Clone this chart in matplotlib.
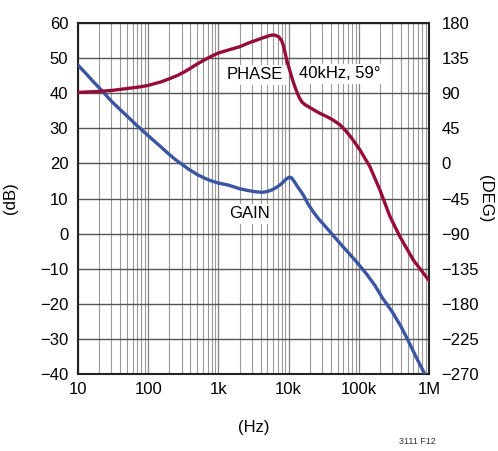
import numpy as np
import matplotlib.pyplot as plt
from matplotlib.ticker import FixedLocator, NullFormatter

# Loop gain / phase
gain_freq = [10, 13, 16.5, 22.7, 30, 40, 55, 71.6, 95, 120, 150, 191, 240, 300,
             380, 513, 650, 800, 1000, 1370, 2000, 2600, 3290, 4200, 5000, 5700,
             6500, 7500, 8500, 9300, 10300, 11000, 12000, 13000, 14500, 16200,
             19000, 22500, 26500, 31000, 41000, 60000, 88000, 129000, 170000,
             220000, 300000, 400000, 500000, 650000, 870000]
gain_db = [48, 45.6, 43.3, 40.4, 37.7, 35.3, 32.7, 30.5, 28.3, 26.5, 24.8, 22.9,
           21.2, 19.8, 18.3, 16.7, 15.7, 15, 14.4, 13.85, 12.8, 12.3, 11.95,
           11.75, 12, 12.4, 13, 13.8, 14.8, 15.6, 16.1, 15.9, 14.9, 13.8, 12.4,
           11, 8.4, 6.2, 4.3, 2.8, 0, -3.8, -7.5, -11.5, -14.8, -18.5, -22.3,
           -26.5, -30.3, -35, -40]

phase_freq = [10, 20, 30, 50, 75, 100, 155, 200, 265, 330, 400, 500, 630, 800,
              1000, 1400, 2000, 2800, 3500, 4000, 5000, 5800, 6500, 7300, 8000,
              8500, 8900, 9500, 10500, 11500, 12300, 13200, 14200, 15400, 17000,
              20200, 24000, 28000, 35000, 43000, 54000, 65000, 80000, 104000,
              144000, 200000, 278000, 386000, 600000, 1000000]
phase_deg = [91, 92.3, 93.5, 96, 98, 100, 104.7, 108.5, 113, 117.5, 122, 127.5,
             132.6, 137.5, 141.5, 145.5, 149.5, 155, 158, 160, 163, 164.6, 164.3,
             162, 157, 150, 142, 131, 118, 106, 98.3, 91, 84.5, 79, 75.5, 71.5,
             67.5, 64.2, 60, 55.6, 49.5, 42, 32, 17.2, -4.2, -34, -68, -94, -124,
             -150]

x_ticks = [10, 100, 1e3, 1e4, 1e5, 1e6]
x_labels = ['10', '100', '1k', '10k', '100k', '1M']
db_ticks = list(range(-40, 61, 10))
deg_ticks = list(range(-270, 181, 45))

blue = '#3a55a4'
red = '#970b3b'

plt.rcParams['font.family'] = ['Liberation Sans', 'DejaVu Sans']
fs = 12

fig = plt.figure(figsize=(4.98, 4.51), dpi=100)
ax = fig.add_axes([0.1566, 0.1707, 0.7048, 0.7783])

ax.set_xscale('log')
ax.set_xlim(10, 1e6)
ax.set_ylim(-40, 60)

# grid
ax.xaxis.set_major_locator(FixedLocator(x_ticks))
ax.xaxis.set_minor_locator(FixedLocator(
    [m * 10**d for d in range(1, 6) for m in range(2, 10)]))
ax.xaxis.set_minor_formatter(NullFormatter())
ax.set_xticklabels(x_labels)
ax.set_yticks(db_ticks)
ax.set_yticklabels([f'{v}'.replace('-', '\u2212') for v in db_ticks])
ax.grid(which='major', axis='x', color='#808080', linewidth=0.9)
ax.grid(which='minor', axis='x', color='#999999', linewidth=0.8)
ax.grid(which='major', axis='y', color='#555555', linewidth=1.0)
ax.tick_params(which='both', length=0, labelsize=fs)
ax.tick_params(axis='y', pad=7)
ax.tick_params(axis='x', pad=6)
for s in ax.spines.values():
    s.set_linewidth(1.5)
    s.set_color('#222222')

ax.plot(gain_freq, gain_db, color=blue, linewidth=2.4, zorder=4,
        solid_joinstyle='round')

ax2 = ax.twinx()
ax2.set_ylim(-270, 180)
ax2.set_yticks(deg_ticks)
ax2.set_yticklabels([f'{v}'.replace('-', '\u2212') for v in deg_ticks])
ax2.tick_params(length=0, labelsize=fs, pad=9)
for s in ax2.spines.values():
    s.set_visible(False)
ax2.plot(phase_freq, phase_deg, color=red, linewidth=2.4, zorder=4,
         solid_joinstyle='round')

box = dict(facecolor='white', edgecolor='none', pad=2)
ax.text(3300, 45.2, 'PHASE', fontsize=fs, ha='center', va='center', bbox=box, zorder=3)
ax.text(54000, 45.5, '40kHz, 59\u00b0', fontsize=fs, ha='center', va='center', bbox=box, zorder=3)
ax.text(2760, 5.6, 'GAIN', fontsize=fs, ha='center', va='center', bbox=box, zorder=3)

ax.set_xlabel('(Hz)', fontsize=fs)
ax.set_ylabel('(dB)', fontsize=fs)
ax2.set_ylabel('(DEG)', fontsize=fs, rotation=270, va='center')
ax.xaxis.set_label_coords(0.5, -0.131)
ax.yaxis.set_label_coords(-0.171, 0.5)
ax2.yaxis.set_label_coords(1.16, 0.5)

fig.text(0.838, 0.01, '3111 F12', fontsize=6.5, ha='center', va='bottom', color='#333333')

fig.savefig('out.png', dpi=100)
